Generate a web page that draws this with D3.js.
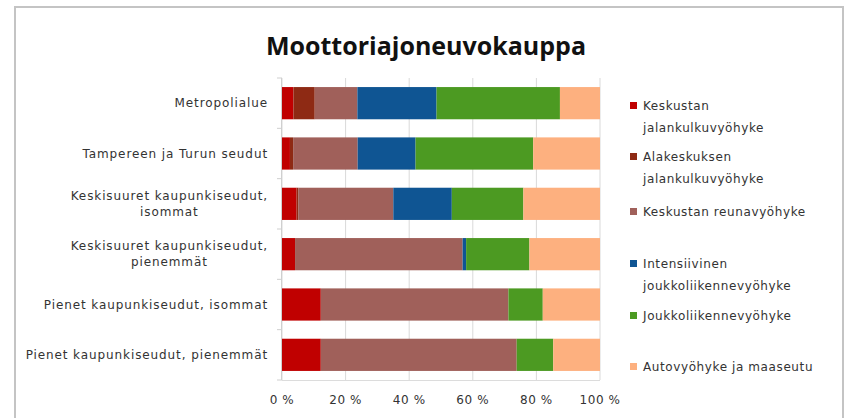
<!DOCTYPE html>
<html><head><meta charset="utf-8">
<script src="https://cdn.jsdelivr.net/npm/d3@7"></script>
<style>body{margin:0;background:#fff;} svg{display:block;}</style>
</head><body>
<svg id="c" width="846" height="418"></svg>
<script>
const categories = [
  "Metropolialue",
  "Tampereen ja Turun seudut",
  "Keskisuuret kaupunkiseudut, isommat",
  "Keskisuuret kaupunkiseudut, pienemmät",
  "Pienet kaupunkiseudut, isommat",
  "Pienet kaupunkiseudut, pienemmät"
];
const categoryLines = [
  ["Metropolialue"],
  ["Tampereen ja Turun seudut"],
  ["Keskisuuret kaupunkiseudut,", "isommat"],
  ["Keskisuuret kaupunkiseudut,", "pienemmät"],
  ["Pienet kaupunkiseudut, isommat"],
  ["Pienet kaupunkiseudut, pienemmät"]
];
const seriesNames = [
  "Keskustan jalankulkuvyöhyke",
  "Alakeskuksen jalankulkuvyöhyke",
  "Keskustan reunavyöhyke",
  "Intensiivinen joukkoliikennevyöhyke",
  "Joukkoliikennevyöhyke",
  "Autovyöhyke ja maaseutu"
];
const legendLines = [
  ["Keskustan", "jalankulkuvyöhyke"],
  ["Alakeskuksen", "jalankulkuvyöhyke"],
  ["Keskustan reunavyöhyke"],
  ["Intensiivinen", "joukkoliikennevyöhyke"],
  ["Joukkoliikennevyöhyke"],
  ["Autovyöhyke ja maaseutu"]
];
const keskustaJalankulku   = [3.6, 2.5, 4.6, 4.1, 12.2, 12.2];
const alakeskusJalankulku  = [6.7, 1.0, 0.5, 0.0, 0.0, 0.0];
const keskustaReuna        = [13.4, 20.3, 29.9, 52.7, 59.0, 61.6];
const intensiivinenJoukko  = [24.9, 18.2, 18.4, 1.1, 0.0, 0.0];
const joukkoliikenne       = [38.8, 37.0, 22.5, 19.9, 10.8, 11.5];
const autovyohyke          = [12.6, 21.0, 24.1, 22.2, 18.0, 14.7];
const xTicks = [0, 20, 40, 60, 80, 100];

const seriesValues = [keskustaJalankulku, alakeskusJalankulku, keskustaReuna, intensiivinenJoukko, joukkoliikenne, autovyohyke];
const colors = ["#C00000", "#8E2A14", "#A0605A", "#0F5593", "#4C9A22", "#FDB07F"];

const svg = d3.select("#c");
const font = "'DejaVu Sans', Verdana, sans-serif";

// frame
svg.append("rect").attr("x", 15).attr("y", 7).attr("width", 828).attr("height", 420)
  .attr("fill", "#fff").attr("stroke", "#c4c4c4").attr("stroke-width", 2);

svg.append("text").attr("x", 426).attr("y", 55).attr("text-anchor", "middle")
  .attr("font-family", "'Open Sans', sans-serif").attr("font-weight", "bold").attr("font-size", 25)
  .attr("fill", "#111").text("Moottoriajoneuvokauppa");

const x = d3.scaleLinear().domain([0, 100]).range([282, 600]);
const y = d3.scaleBand().domain(categories).range([78, 380]).paddingInner(0.36).paddingOuter(0.18);

// grid
svg.append("g").selectAll("line").data(xTicks).join("line")
  .attr("x1", d => x(d)).attr("x2", d => x(d)).attr("y1", 78).attr("y2", 380)
  .attr("stroke", "#d9d9d9").attr("stroke-width", 1);
svg.append("line").attr("x1", 282).attr("x2", 600).attr("y1", 380.5).attr("y2", 380.5).attr("stroke", "#dcdcdc");

// stacked
const table = categories.map((c, i) => {
  const o = {cat: c};
  seriesNames.forEach((s, j) => o[s] = seriesValues[j][i]);
  return o;
});
const stack = d3.stack().keys(seriesNames)(table);
svg.append("g").selectAll("g").data(stack).join("g")
  .attr("fill", (d, i) => colors[i])
  .selectAll("rect").data(d => d).join("rect")
  .attr("x", d => x(d[0])).attr("width", d => Math.max(0, x(d[1]) - x(d[0])))
  .attr("y", d => y(d.data.cat)).attr("height", y.bandwidth());

// y axis line and ticks
svg.append("line").attr("x1", 281.5).attr("x2", 281.5).attr("y1", 78).attr("y2", 380).attr("stroke", "#cfcfcf");
svg.append("g").selectAll("line").data(d3.range(categories.length + 1)).join("line")
  .attr("x1", 277).attr("x2", 282)
  .attr("y1", i => 78 + i * (302 / categories.length)).attr("y2", i => 78 + i * (302 / categories.length))
  .attr("stroke", "#cfcfcf");

// category labels
const lab = svg.append("g").attr("font-family", font).attr("font-size", 12)
  .attr("letter-spacing", 0.9).attr("fill", "#333");
categoryLines.forEach((lines, i) => {
  const cy = y(categories[i]) + y.bandwidth() / 2;
  const g = lab.append("g");
  if (lines.length === 1) {
    g.append("text").attr("x", 268).attr("y", cy + 4).attr("text-anchor", "end").text(lines[0]);
  } else {
    const t0 = g.append("text").attr("x", 268).attr("y", cy - 4).attr("text-anchor", "end").text(lines[0]);
    const w = t0.node().getComputedTextLength();
    t0.attr("text-anchor", "middle").attr("x", 268 - w / 2);
    g.append("text").attr("x", 268 - w / 2).attr("y", cy + 12).attr("text-anchor", "middle").text(lines[1]);
  }
});

// x tick labels
svg.append("g").selectAll("text").data(xTicks).join("text")
  .attr("x", d => x(d)).attr("y", 404).attr("text-anchor", "middle")
  .attr("font-family", font).attr("font-size", 12).attr("letter-spacing", 0.6).attr("fill", "#333")
  .text(d => d + " %");

// legend
const legendY = [106, 157, 212, 264, 316, 367];
const lg = svg.append("g").attr("font-family", font).attr("font-size", 12)
  .attr("letter-spacing", 0.6).attr("fill", "#333");
seriesNames.forEach((s, i) => {
  lg.append("rect").attr("x", 630).attr("y", legendY[i] - 4).attr("width", 7).attr("height", 7).attr("fill", colors[i]);
  legendLines[i].forEach((l, k) => {
    lg.append("text").attr("x", 643).attr("y", legendY[i] + 4 + k * 22).text(l);
  });
});
</script>
</body></html>
